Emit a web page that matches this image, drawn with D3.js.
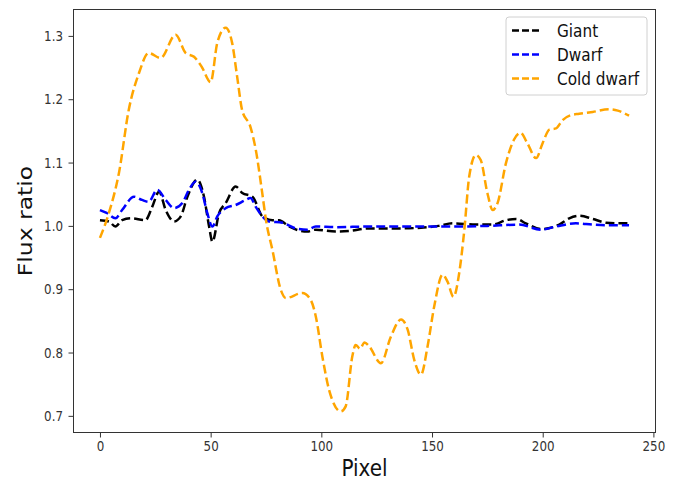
<!DOCTYPE html>
<html>
<head>
<meta charset="utf-8">
<script src="https://cdn.jsdelivr.net/npm/d3@7"></script>
<style>
  body { margin: 0; background: #fff; }
  text { font-family: "DejaVu Sans", sans-serif; }
</style>
</head>
<body>
<div id="chart"></div>
<script>
// Series
const giantX = [0, 4, 7, 10, 14, 20.5, 23.6, 26.7, 29.7, 33.5, 36.5, 39.5, 44, 47, 49.3, 50.8, 53.8, 56.8, 61.3, 64.3, 68.9, 73.4, 77.9, 80.9, 85.4, 93.7, 97.5, 106.5, 112.5, 121.6, 135, 145, 153, 159.3, 169.8, 177.4, 183.4, 188, 192.4, 199.2, 207.5, 212, 216.5, 222.6, 228.6, 234, 239];
const giantY = [1.009, 1.007, 0.999, 1.009, 1.012, 1.009, 1.03, 1.054, 1.025, 1.007, 1.015, 1.046, 1.073, 1.046, 0.999, 0.975, 1.02, 1.036, 1.062, 1.052, 1.046, 1.015, 1.009, 1.009, 0.999, 0.991, 0.994, 0.991, 0.992, 0.996, 0.996, 0.997, 1.0, 1.004, 1.002, 1.002, 1.009, 1.011, 1.004, 0.995, 1.002, 1.012, 1.016, 1.011, 1.005, 1.004, 1.004];

const dwarfX = [0, 3.3, 7, 10, 15.4, 19, 22, 25.9, 29.7, 33.5, 37.2, 40.2, 43.3, 46.2, 48.5, 50.8, 53, 56.8, 61.3, 65.9, 68, 70.4, 73.4, 76.4, 82.4, 88.5, 93.7, 97.5, 106.5, 121.6, 140, 160, 175, 189.4, 199.2, 206, 215, 222.6, 230, 239];
const dwarfY = [1.025, 1.02, 1.012, 1.025, 1.046, 1.041, 1.038, 1.057, 1.041, 1.028, 1.036, 1.057, 1.07, 1.052, 1.02, 0.999, 1.015, 1.028, 1.033, 1.041, 1.044, 1.03, 1.015, 1.007, 1.005, 0.996, 0.994, 0.999, 0.998, 0.999, 0.999, 0.999, 1.0, 1.002, 0.994, 0.999, 1.004, 1.002, 1.001, 1.001];

const coldX = [0, 4, 8.6, 13, 17.6, 22, 27.4, 34.2, 38.7, 42.5, 46, 50, 53, 56.8, 59.7, 62, 64.2, 68, 70.4, 73.3, 75, 77.9, 81.7, 84, 91.4, 95.2, 97.5, 100.5, 103.5, 108.8, 111, 114, 115.5, 117.5, 119.5, 121.6, 126.9, 131.4, 136, 139, 142, 145, 148, 151, 154.8, 157, 159.7, 162.3, 164.6, 166.8, 169.8, 172, 175, 177.4, 179.6, 183.4, 187, 190, 193, 197, 200, 203, 206, 209, 212.8, 216.5, 222.6, 230, 233.9, 239];
const coldY = [0.981, 1.02, 1.084, 1.183, 1.241, 1.273, 1.265, 1.302, 1.273, 1.267, 1.251, 1.227, 1.289, 1.313, 1.289, 1.235, 1.183, 1.156, 1.12, 1.052, 1.009, 0.962, 0.899, 0.886, 0.894, 0.883, 0.857, 0.793, 0.741, 0.707, 0.715, 0.794, 0.812, 0.806, 0.816, 0.81, 0.783, 0.825, 0.852, 0.836, 0.788, 0.765, 0.81, 0.873, 0.923, 0.912, 0.888, 0.926, 0.994, 1.078, 1.112, 1.104, 1.052, 1.025, 1.036, 1.099, 1.136, 1.147, 1.131, 1.107, 1.131, 1.152, 1.154, 1.167, 1.175, 1.177, 1.18, 1.184, 1.182, 1.174];

const seriesNames = ["Giant", "Dwarf", "Cold dwarf"];
const seriesColors = ["#000000", "#0000ff", "#ffa500"];
const xTicks = [0, 50, 100, 150, 200, 250];
const yTicks = [0.7, 0.8, 0.9, 1.0, 1.1, 1.2, 1.3];

const series = [
  { name: seriesNames[0], color: seriesColors[0], xs: giantX, ys: giantY },
  { name: seriesNames[1], color: seriesColors[1], xs: dwarfX, ys: dwarfY },
  { name: seriesNames[2], color: seriesColors[2], xs: coldX, ys: coldY }
];

// The reference looks squeezed sideways, so text is narrowed a bit
const squeeze = 0.85;

// Chart size
const W = 686, H = 480;
const margin = { top: 9.5, right: 30.5, bottom: 47.5, left: 73.5 },
  width = W - margin.left - margin.right,
  height = H - margin.top - margin.bottom;

const svg = d3
  .select("#chart")
  .append("svg")
  .attr("width", W)
  .attr("height", H);

const g = svg
  .append("g")
  .attr("transform", "translate(" + margin.left + "," + margin.top + ")");

// Scales with matplotlib-like 5% padding
const x = d3.scaleLinear().domain([-11.95, 250.95]).range([0, width]);
const y = d3.scaleLinear().domain([0.6737, 1.3417]).range([height, 0]);

// Axes
const xAxis = g
  .append("g")
  .attr("transform", "translate(0," + height + ")")
  .call(d3.axisBottom(x).tickValues(xTicks).tickFormat(d3.format("d")).tickSize(5).tickPadding(3.5));
const yAxis = g
  .append("g")
  .call(d3.axisLeft(y).tickValues(yTicks).tickFormat(d3.format(".1f")).tickSize(5).tickPadding(5.5));

[xAxis, yAxis].forEach((a) => {
  a.select(".domain").remove();
  a.selectAll("line").attr("stroke", "#333");
  a.selectAll("text")
    .attr("fill", "#333")
    .style("font-size", "14px")
    .style("font-family", "DejaVu Sans, sans-serif")
    .each(function () {
      const t = d3.select(this);
      const tx = +t.attr("x") || 0;
      t.attr("x", 0).attr("transform", "translate(" + tx + ",0) scale(" + squeeze + ",1)");
    });
});

// Lines
const line = (s) =>
  d3
    .line()
    .x((d, i) => x(s.xs[i]))
    .y((d) => y(d))
    .curve(d3.curveMonotoneX)(s.ys);

g.selectAll(".series")
  .data(series)
  .enter()
  .append("path")
  .attr("class", "series")
  .attr("fill", "none")
  .attr("stroke", (d) => d.color)
  .attr("stroke-width", 2.5)
  .attr("stroke-dasharray", "9,4")
  .attr("d", (d) => line(d));

// Frame
g.append("rect")
  .attr("width", width)
  .attr("height", height)
  .attr("fill", "none")
  .attr("stroke", "#333")
  .attr("stroke-width", 1);

// Axis labels
svg
  .append("text")
  .attr("transform", "translate(" + (margin.left + width / 2) + ",476) scale(" + squeeze + ",1)")
  .attr("text-anchor", "middle")
  .style("font-size", "23.5px")
  .attr("fill", "#111")
  .text("Pixel");

svg
  .append("text")
  .attr("transform", "translate(32," + (margin.top + height / 2) + ") scale(" + squeeze + ",1) rotate(-90)")
  .attr("text-anchor", "middle")
  .style("font-size", "23.5px")
  .attr("fill", "#111")
  .text("Flux ratio");

// Legend
const legend = svg.append("g").attr("transform", "translate(506,17)");
legend
  .append("rect")
  .attr("width", 141)
  .attr("height", 78)
  .attr("rx", 3)
  .attr("fill", "#fff")
  .attr("fill-opacity", 0.8)
  .attr("stroke", "#d0d0d0");

const rows = legend
  .selectAll(".row")
  .data(series)
  .enter()
  .append("g")
  .attr("class", "row")
  .attr("transform", (d, i) => "translate(0," + (13.5 + i * 24) + ")");

rows
  .append("line")
  .attr("x1", 6)
  .attr("x2", 36)
  .attr("stroke", (d) => d.color)
  .attr("stroke-width", 2.5)
  .attr("stroke-dasharray", "7,3");

rows
  .append("text")
  .attr("transform", "translate(51,0) scale(" + squeeze + ",1)")
  .attr("dy", "0.36em")
  .style("font-size", "18px")
  .attr("fill", "#111")
  .text((d) => d.name);
</script>
</body>
</html>
